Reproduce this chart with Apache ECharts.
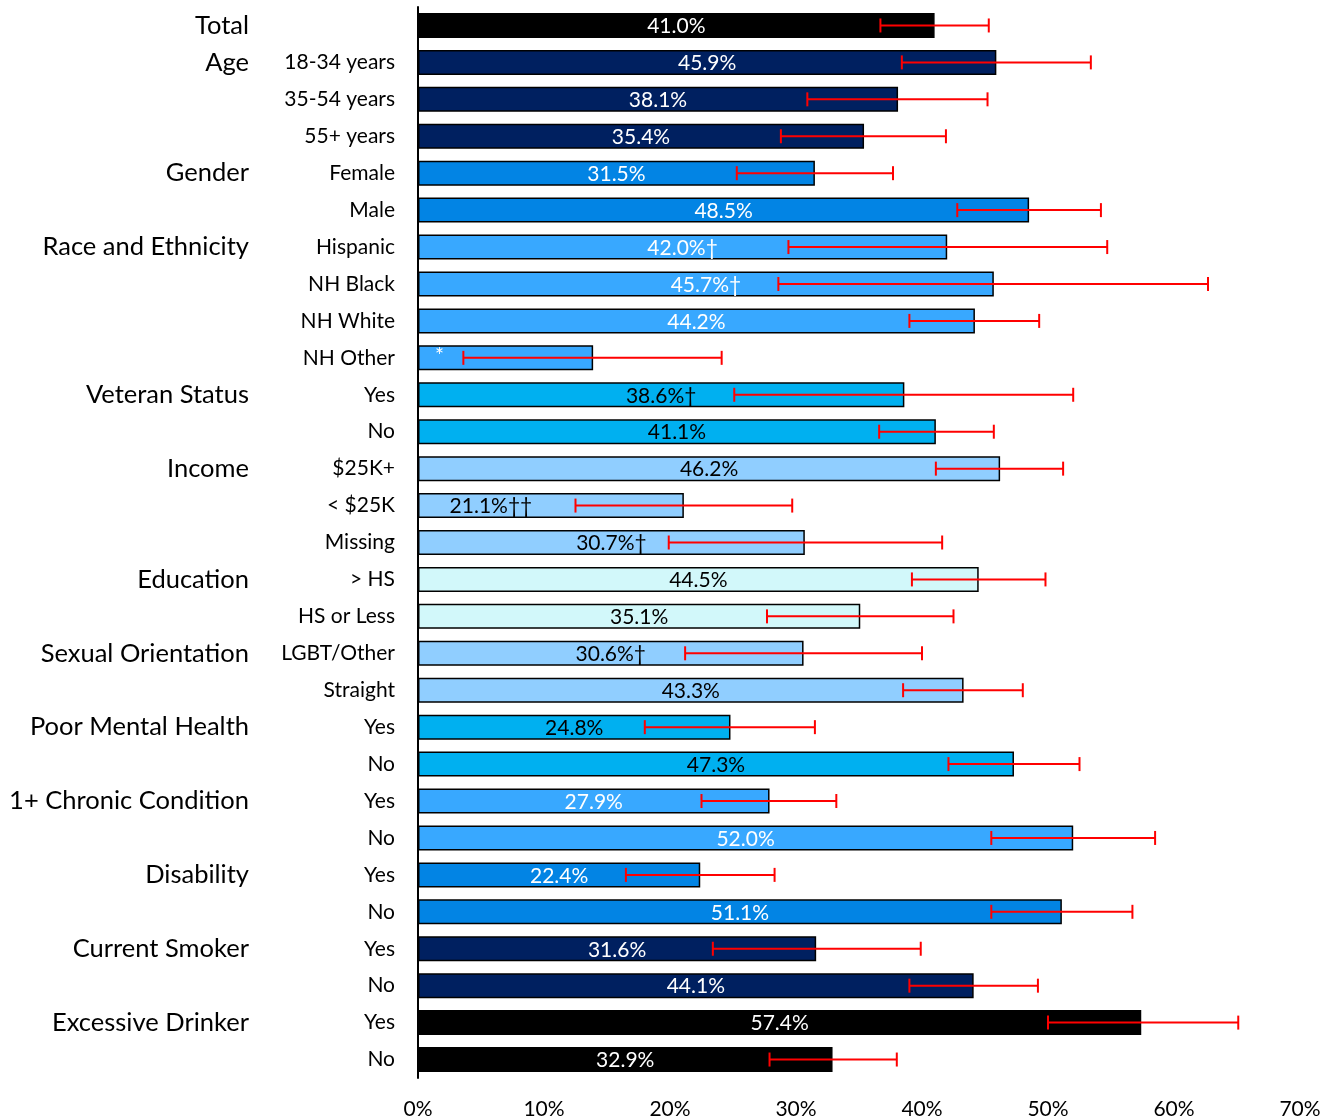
<!DOCTYPE html>
<html lang="en">
<head>
    <meta charset="UTF-8">
    <title>Prevalence by group</title>
    <script src="https://cdn.jsdelivr.net/npm/echarts@6/dist/echarts.min.js"></script>
    <style>
        html, body { margin: 0; padding: 0; background: #fff; }
        #chart { width: 1336px; height: 1120px; }
    </style>
</head>
<body>
    <div id="chart"></div>
    <script>
        // groups and how many rows each one has
        const groups = ['Total', 'Age', 'Gender', 'Race and Ethnicity', 'Veteran Status', 'Income', 'Education',
            'Sexual Orientation', 'Poor Mental Health', '1+ Chronic Condition', 'Disability', 'Current Smoker', 'Excessive Drinker'];
        const groupSizes = [1, 3, 2, 4, 2, 3, 2, 2, 2, 2, 2, 2, 2];
        const groupColors = ['#000000', '#002060', '#0284E4', '#38A8FF', '#00B0F0', '#90CEFF', '#D2F8FA',
            '#90CEFF', '#00B0F0', '#38A8FF', '#0284E4', '#002060', '#000000'];
        const groupTextColors = ['#fff', '#fff', '#fff', '#fff', '#000', '#000', '#000', '#000', '#000', '#fff', '#fff', '#fff', '#fff'];

        const subLabels = ['', '18-34 years', '35-54 years', '55+ years', 'Female', 'Male', 'Hispanic', 'NH Black',
            'NH White', 'NH Other', 'Yes', 'No', '$25K+', '< $25K', 'Missing', '> HS', 'HS or Less', 'LGBT/Other',
            'Straight', 'Yes', 'No', 'Yes', 'No', 'Yes', 'No', 'Yes', 'No', 'Yes', 'No'];
        const values = [41.0, 45.9, 38.1, 35.4, 31.5, 48.5, 42.0, 45.7, 44.2, 13.9, 38.6, 41.1, 46.2, 21.1, 30.7,
            44.5, 35.1, 30.6, 43.3, 24.8, 47.3, 27.9, 52.0, 22.4, 51.1, 31.6, 44.1, 57.4, 32.9];
        const lower = [36.7, 38.4, 30.9, 28.8, 25.3, 42.8, 29.4, 28.6, 39.0, 3.6, 25.1, 36.6, 41.1, 12.5, 19.9,
            39.2, 27.7, 21.2, 38.5, 18.0, 42.1, 22.5, 45.5, 16.5, 45.5, 23.4, 39.0, 50.0, 27.9];
        const upper = [45.3, 53.4, 45.2, 41.9, 37.7, 54.2, 54.7, 62.7, 49.3, 24.1, 52.0, 45.7, 51.2, 29.7, 41.6,
            49.8, 42.5, 40.0, 48.0, 31.5, 52.5, 33.2, 58.5, 28.3, 56.7, 39.9, 49.2, 65.1, 38.0];
        // '*' = suppressed estimate, daggers = footnote marks
        const notes = ['', '', '', '', '', '', '†', '†', '', '*', '†', '', '', '††', '†', '', '', '†', '', '', '', '', '', '', '', '', '', '', ''];
        const xTicks = ['0%', '10%', '20%', '30%', '40%', '50%', '60%', '70%'];

        // expand groups to rows
        const rowGroup = [];
        groupSizes.forEach((n, g) => { for (let i = 0; i < n; i++) rowGroup.push(g); });
        const groupAxisLabels = rowGroup.map((g, i) => (i === 0 || rowGroup[i - 1] !== g) ? groups[g] : '');
        const rowIds = subLabels.map((s, i) => 'r' + i);

        const barData = values.map((v, i) => {
            const g = rowGroup[i];
            const item = {
                value: v,
                itemStyle: { color: groupColors[g] },
                label: { color: groupTextColors[g] }
            };
            if (notes[i] === '*') {
                item.label.position = 'insideLeft';
                item.label.distance = 17;
                item.label.offset = [0, -2];
            }
            if (notes[i] === '††') {
                item.label.offset = [-60, 1];
            }
            return item;
        });

        const errData = values.map((v, i) => [lower[i], upper[i], i]);

        const chart = echarts.init(document.getElementById('chart'));
        const font = 'Lato';

        chart.setOption({
            animation: false,
            grid: { left: 418, right: 36, top: 7, bottom: 40, containLabel: false },
            xAxis: {
                type: 'value',
                min: 0, max: 70, interval: 10,
                axisLine: { show: false },
                axisTick: { show: false },
                splitLine: { show: false },
                axisLabel: {
                    margin: 21,
                    fontFamily: font, fontSize: 21, color: '#000',
                    formatter: (v) => xTicks[Math.round(v / 10)]
                }
            },
            yAxis: [
                {
                    type: 'category',
                    inverse: true,
                    data: rowIds,
                    axisLine: { show: true, lineStyle: { color: '#000', width: 2 } },
                    axisTick: { show: false },
                    axisLabel: {
                        margin: 23, interval: 0,
                        fontFamily: font, fontSize: 21, color: '#000',
                        formatter: (v, i) => subLabels[i]
                    }
                },
                {
                    type: 'category',
                    inverse: true,
                    position: 'left',
                    offset: 161,
                    data: rowIds,
                    axisLine: { show: false },
                    axisTick: { show: false },
                    axisLabel: {
                        margin: 8, interval: 0,
                        fontFamily: font, fontSize: 25.5, color: '#000',
                        formatter: (v, i) => groupAxisLabels[i]
                    }
                }
            ],
            series: [
                {
                    type: 'bar',
                    yAxisIndex: 0,
                    barWidth: 25,
                    data: barData,
                    itemStyle: { borderColor: '#000', borderWidth: 1.5 },
                    label: {
                        show: true,
                        position: 'inside',
                        offset: [0, 1],
                        fontFamily: font,
                        fontSize: 21,
                        formatter: (p) => notes[p.dataIndex] === '*' ? '*' : p.value.toFixed(1) + '%' + notes[p.dataIndex]
                    },
                    z: 2
                },
                {
                    type: 'custom',
                    yAxisIndex: 0,
                    data: errData,
                    encode: { x: [0, 1], y: 2 },
                    z: 5,
                    renderItem: function (params, api) {
                        const row = api.value(2);
                        const a = api.coord([api.value(0), row]);
                        const b = api.coord([api.value(1), row]);
                        const h = 7;
                        const style = { stroke: '#FF0000', lineWidth: 2 };
                        return {
                            type: 'group',
                            children: [
                                { type: 'line', shape: { x1: a[0], y1: a[1], x2: b[0], y2: b[1] }, style },
                                { type: 'line', shape: { x1: a[0], y1: a[1] - h, x2: a[0], y2: a[1] + h }, style },
                                { type: 'line', shape: { x1: b[0], y1: b[1] - h, x2: b[0], y2: b[1] + h }, style }
                            ]
                        };
                    }
                }
            ]
        });
    </script>
</body>
</html>
